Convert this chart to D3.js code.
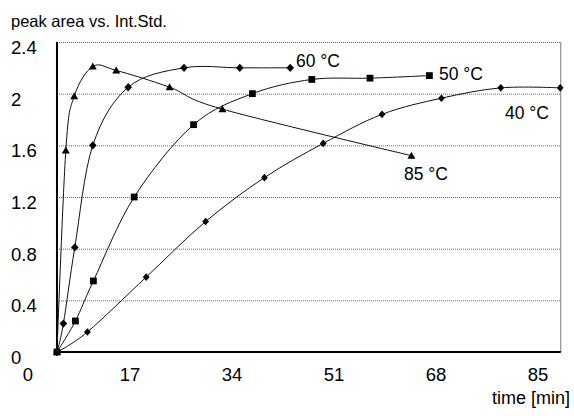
<!DOCTYPE html>
<html>
<head>
<meta charset="utf-8">
<script src="https://cdn.jsdelivr.net/npm/d3@7"></script>
<style>
  body { margin: 0; background: #fff; }
  svg { display: block; font-family: "Liberation Sans", Arial, sans-serif; }
</style>
</head>
<body>
<script>
// series (time in min, peak area ratio)
var t85 = [4.83, 6.3, 7.7, 10.8, 14.7, 23.6, 32.4, 63.9];
var v85 = [0, 1.56, 1.98, 2.21, 2.18, 2.05, 1.88, 1.52];

var t60 = [4.83, 5.9, 7.8, 10.8, 16.7, 26.0, 35.3, 43.7];
var v60 = [0, 0.22, 0.81, 1.60, 2.05, 2.20, 2.20, 2.20];

var t50 = [4.83, 7.9, 10.9, 17.7, 27.6, 37.4, 47.3, 57.0, 66.9];
var v50 = [0, 0.24, 0.55, 1.20, 1.76, 2.00, 2.11, 2.12, 2.14];

var t40 = [4.83, 9.9, 19.7, 29.6, 39.4, 49.2, 59.0, 68.9, 78.8, 88.7];
var v40 = [0, 0.155, 0.58, 1.01, 1.35, 1.615, 1.84, 1.965, 2.045, 2.045];

var xTicks = [0, 17, 34, 51, 68, 85];
var yTicks = [0, 0.4, 0.8, 1.2, 1.6, 2.0, 2.4];
var yLabels = ["0", "0.4", "0.8", "1.2", "1.6", "2", "2.4"];

var w = 574;
var h = 416;

// x axis runs from first sample to a bit past 85 min
var xMin = 4.83, xMax = 88.8;

var x = d3.scaleLinear().domain([0, 85]).range([28, 538]);
var y = d3.scaleLinear().domain([0, 2.4]).range([352, 42]);

var svg = d3.select("body").append("svg")
  .attr("width", w)
  .attr("height", h)
  .style("background-color", "#fff");

// dotted grid lines
svg.selectAll(".grid")
  .data(yTicks.slice(1))
  .enter()
  .append("line")
  .attr("class", "grid")
  .attr("x1", x(xMin))
  .attr("x2", x(xMax))
  .attr("y1", function(d) { return y(d) + 0.5; })
  .attr("y2", function(d) { return y(d) + 0.5; })
  .attr("stroke", "#666")
  .attr("stroke-width", 1)
  .attr("stroke-dasharray", "1,1");

// right border
svg.append("line")
  .attr("x1", x(xMax)).attr("x2", x(xMax))
  .attr("y1", y(2.4)).attr("y2", y(0))
  .attr("stroke", "#777")
  .attr("stroke-width", 1);

// axes
svg.append("line")
  .attr("x1", x(xMin)).attr("x2", x(xMin))
  .attr("y1", y(2.4)).attr("y2", y(0))
  .attr("stroke", "#000")
  .attr("stroke-width", 2);
svg.append("line")
  .attr("x1", x(xMin) - 1).attr("x2", x(xMax))
  .attr("y1", y(0)).attr("y2", y(0))
  .attr("stroke", "#000")
  .attr("stroke-width", 2);

// y tick labels, left aligned
svg.selectAll(".ylab")
  .data(yTicks)
  .enter()
  .append("text")
  .attr("class", "ylab")
  .attr("x", 11)
  .attr("y", function(d) { return y(d) + 12; })
  .attr("font-size", 18.5)
  .text(function(d, i) { return yLabels[i]; });

// x tick labels
svg.selectAll(".xlab")
  .data(xTicks)
  .enter()
  .append("text")
  .attr("class", "xlab")
  .attr("x", function(d) { return x(d); })
  .attr("y", 381)
  .attr("text-anchor", "middle")
  .attr("font-size", 18.5)
  .text(function(d) { return d; });

svg.append("text")
  .attr("x", 11).attr("y", 27)
  .attr("font-size", 16.5)
  .text("peak area vs. Int.Std.");

svg.append("text")
  .attr("x", 570).attr("y", 404)
  .attr("text-anchor", "end")
  .attr("font-size", 18)
  .text("time [min]");

var line = d3.line()
  .x(function(d) { return x(d[0]); })
  .y(function(d) { return y(d[1]); })
  .curve(d3.curveCardinal.tension(0));

var series = [
  {t: t85, v: v85, marker: "triangle", label: "85 °C", lx: 404, ly: 180},
  {t: t60, v: v60, marker: "diamond", label: "60 °C", lx: 296, ly: 67},
  {t: t50, v: v50, marker: "square", label: "50 °C", lx: 439, ly: 80},
  {t: t40, v: v40, marker: "smalldiamond", label: "40 °C", lx: 505, ly: 119}
];

var shapes = {
  triangle: "M0,-4L4,3L-4,3Z",
  diamond: "M0,-4.2L3.8,0L0,4.2L-3.8,0Z",
  smalldiamond: "M0,-3.8L3.4,0L0,3.8L-3.4,0Z",
  square: "M-3.4,-3.4H3.4V3.4H-3.4Z"
};

series.forEach(function(s) {
  var pts = s.t.map(function(t, i) { return [t, s.v[i]]; });

  svg.append("path")
    .datum(pts)
    .attr("d", line)
    .attr("fill", "none")
    .attr("stroke", "#111")
    .attr("stroke-width", 1);

  svg.selectAll(".m-" + s.marker)
    .data(pts)
    .enter()
    .append("path")
    .attr("class", "m-" + s.marker)
    .attr("d", shapes[s.marker])
    .attr("transform", function(d) {
      return "translate(" + x(d[0]) + "," + y(d[1]) + ")";
    })
    .attr("fill", "#000");

  svg.append("text")
    .attr("x", s.lx).attr("y", s.ly)
    .attr("font-size", 17.5)
    .text(s.label);
});
</script>
</body>
</html>
